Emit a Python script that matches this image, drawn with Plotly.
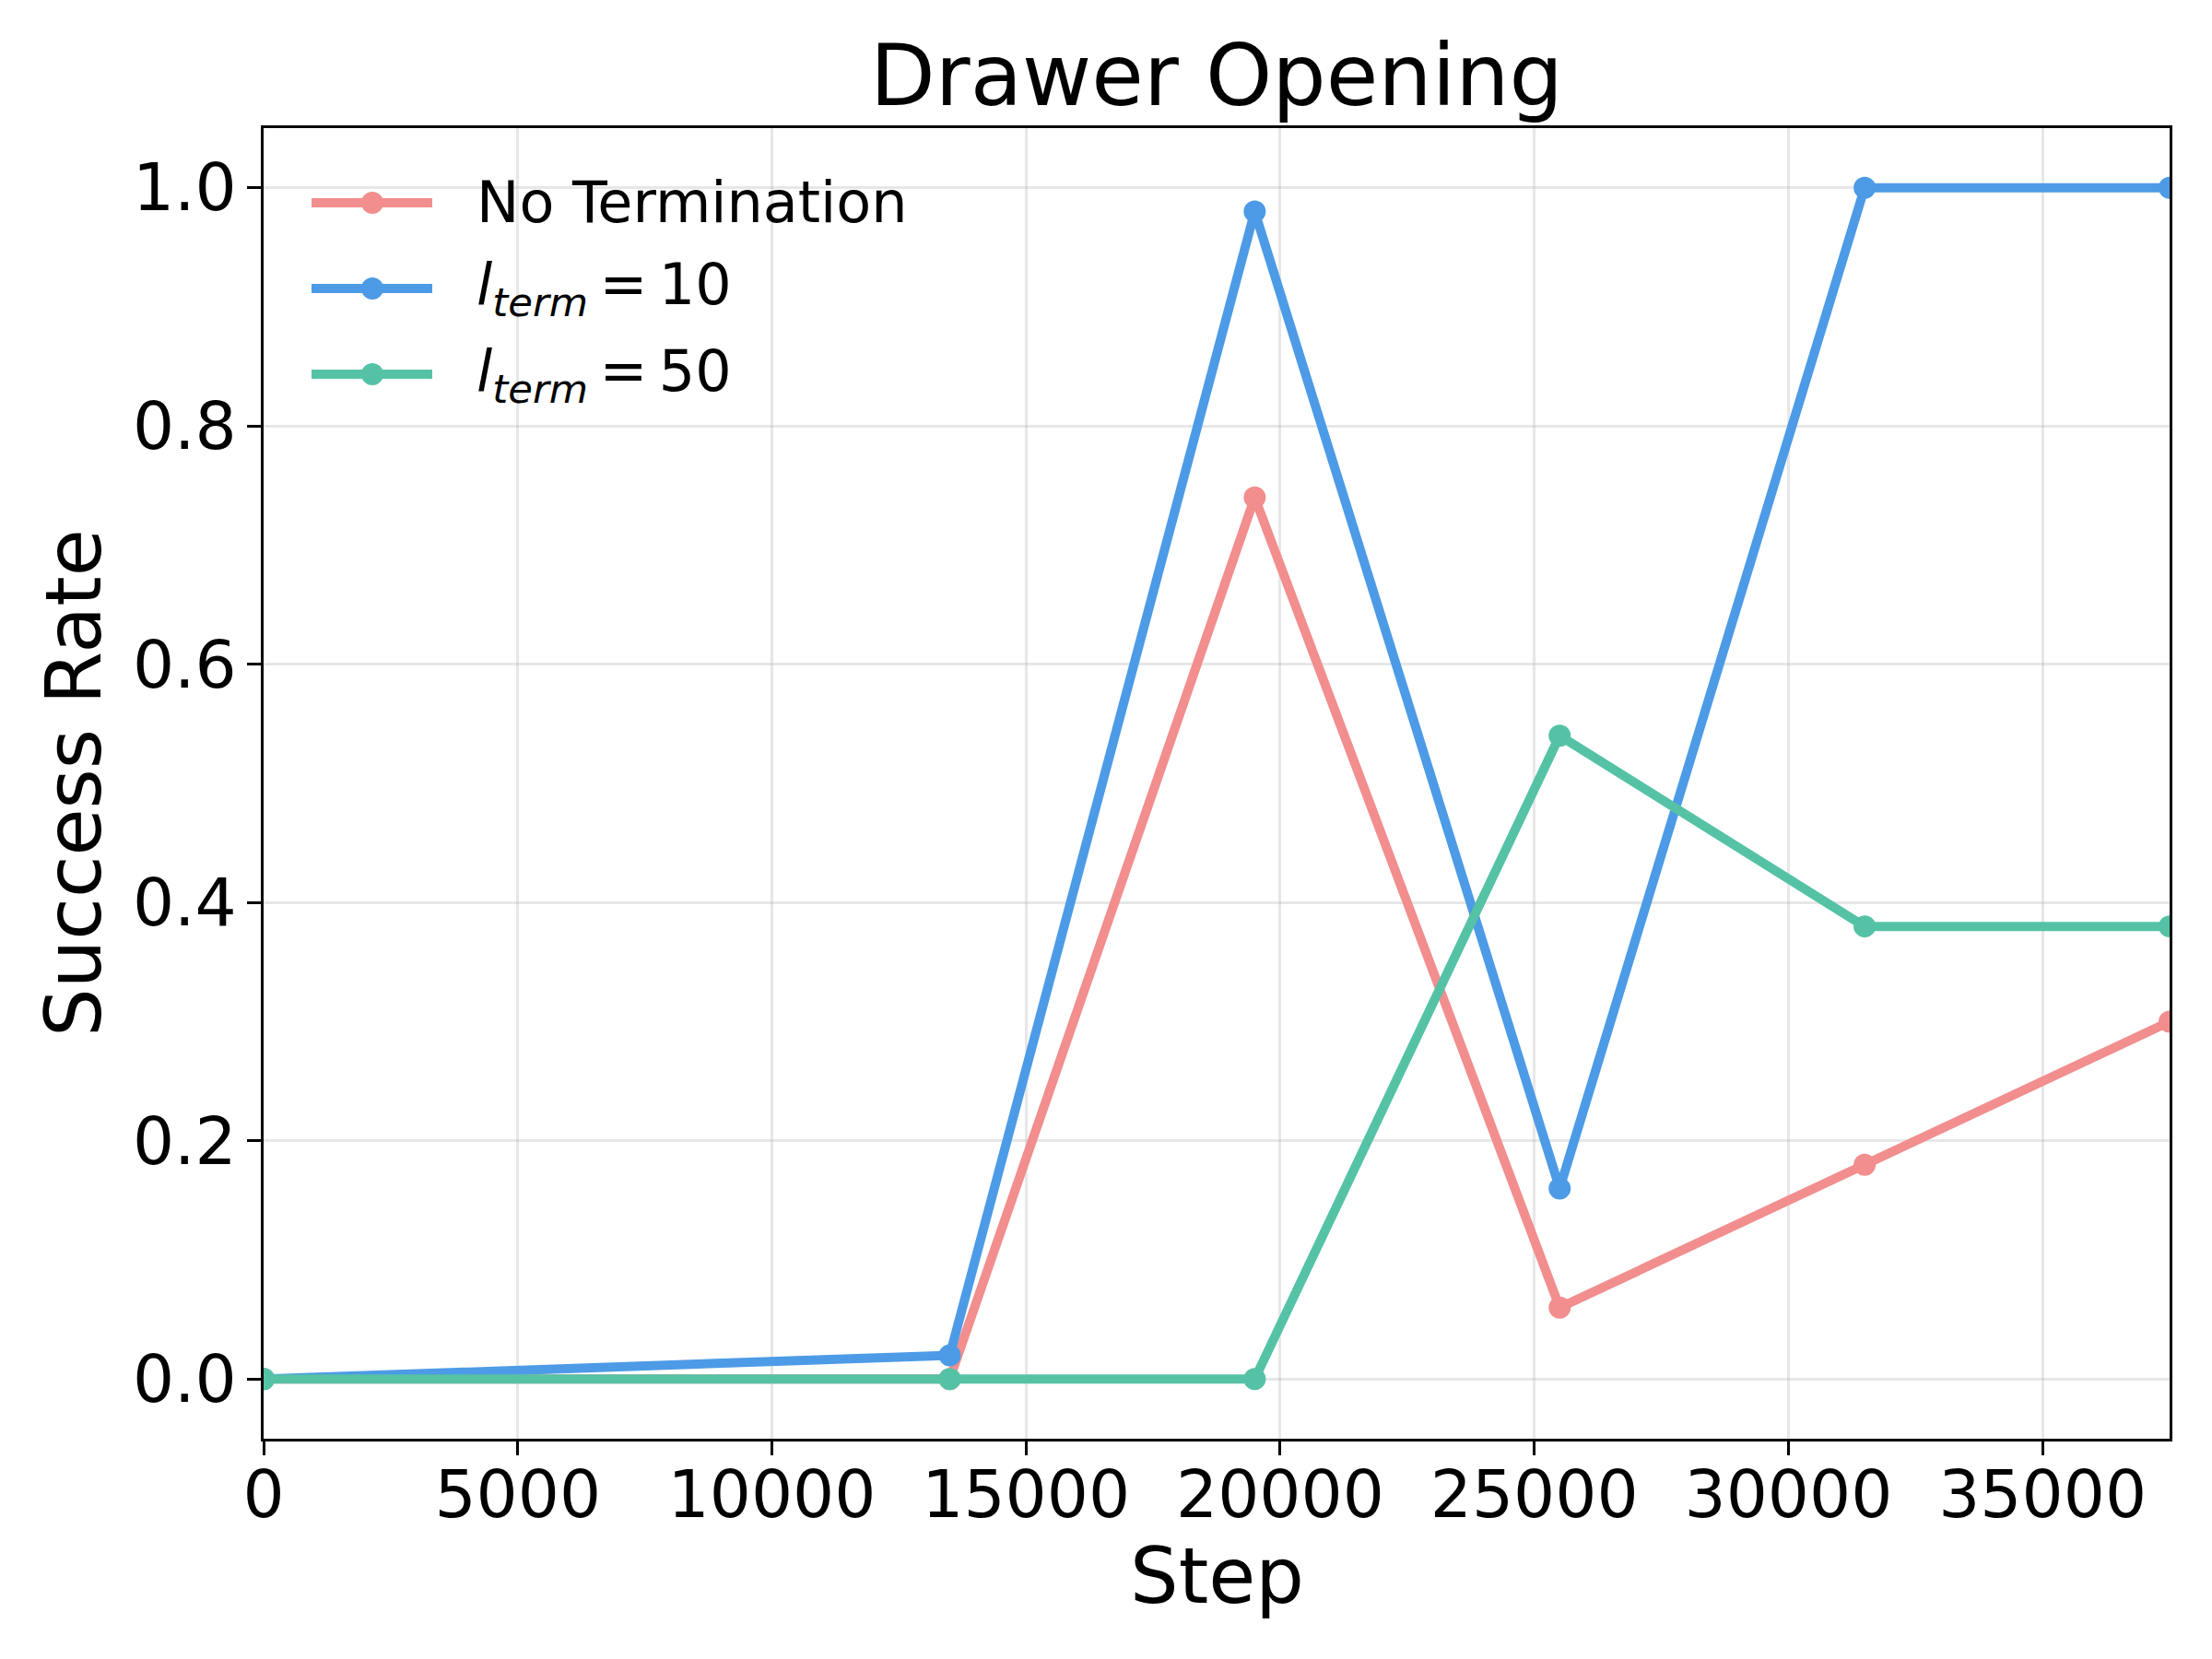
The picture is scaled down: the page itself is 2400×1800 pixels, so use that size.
import plotly.graph_objects as go

steps = [0, 13500, 19500, 25500, 31500, 37500]
no_term = [0.0, 0.0, 0.74, 0.06, 0.18, 0.30]
l_term_10 = [0.0, 0.02, 0.98, 0.16, 1.0, 1.0]
l_term_50 = [0.0, 0.0, 0.0, 0.54, 0.38, 0.38]

series_names = ["No Termination",
                "<i>l</i><sub><i>term</i></sub>\u2009=\u200910",
                "<i>l</i><sub><i>term</i></sub>\u2009=\u200950"]
series_values = [no_term, l_term_10, l_term_50]
colors = ["#F28E8E", "#4D9BE6", "#55C2A6"]

x_ticks = [0, 5000, 10000, 15000, 20000, 25000, 30000, 35000]
y_ticks = [0.0, 0.2, 0.4, 0.6, 0.8, 1.0]

W, H = 2400, 1800
L, R, T, B = 286, 46, 139, 239
PW, PH = W - L - R, H - T - B
FONT = "DejaVu Sans"

def px_to_paper_x(px):
    return (px - L) / PW

def px_to_paper_y(py):
    return (H - B - py) / PH

fig = go.Figure()
for name, vals, c in zip(series_names, series_values, colors):
    fig.add_trace(go.Scatter(
        x=steps, y=vals, mode="lines+markers", name=name,
        line=dict(color=c, width=10),
        marker=dict(color=c, size=24),
        cliponaxis=True, showlegend=False,
    ))

axis_common = dict(
    showline=True, linecolor="black", linewidth=3, mirror=True,
    ticks="outside", ticklen=15, tickwidth=3, tickcolor="black",
    showgrid=True, gridcolor="rgba(176,176,176,0.3)", gridwidth=3,
    zeroline=False,
    tickfont=dict(family=FONT, size=71, color="black"),
)

fig.update_layout(
    width=W, height=H,
    margin=dict(l=L, r=R, t=T, b=B),
    paper_bgcolor="white", plot_bgcolor="white",
    font=dict(family=FONT, color="black"),
    xaxis=dict(range=[0, 37500], tickvals=x_ticks, ticklabelstandoff=-18,
               ticktext=[str(v) for v in x_ticks], **axis_common),
    yaxis=dict(range=[-0.05, 1.05], tickvals=y_ticks, ticklabelstandoff=-3,
               ticktext=[f"{v:.1f}" for v in y_ticks], **axis_common),
    showlegend=False,
)

annotations = [
    dict(text="Drawer Opening", xref="paper", yref="paper",
         x=0.5, y=px_to_paper_y(83), xanchor="center", yanchor="middle",
         showarrow=False, font=dict(family=FONT, size=92, color="black")),
    dict(text="Step", xref="paper", yref="paper",
         x=0.5, y=px_to_paper_y(1710), xanchor="center", yanchor="middle",
         showarrow=False, font=dict(family=FONT, size=83, color="black")),
    dict(text="Success Rate", xref="paper", yref="paper",
         x=px_to_paper_x(80), y=0.5, xanchor="center", yanchor="middle",
         textangle=-90, showarrow=False,
         font=dict(family=FONT, size=83, color="black")),
]

shapes = []
legend_rows = [220, 313, 406]
for name, c, ry in zip(series_names, colors, legend_rows):
    yp = px_to_paper_y(ry)
    shapes.append(dict(type="line", xref="paper", yref="paper",
                       x0=px_to_paper_x(338), x1=px_to_paper_x(469), y0=yp, y1=yp,
                       line=dict(color=c, width=10)))
    shapes.append(dict(type="circle", xref="paper", yref="paper",
                       xsizemode="pixel", ysizemode="pixel",
                       xanchor=px_to_paper_x(404), yanchor=yp,
                       x0=-12, x1=12, y0=-12, y1=12,
                       fillcolor=c, line=dict(width=0)))
    annotations.append(dict(text=name, xref="paper", yref="paper",
                            x=px_to_paper_x(515), y=yp, xanchor="left", yanchor="middle",
                            showarrow=False,
                            font=dict(family=FONT, size=62, color="black")))

fig.update_layout(annotations=annotations, shapes=shapes)
fig.write_html("out.html")
